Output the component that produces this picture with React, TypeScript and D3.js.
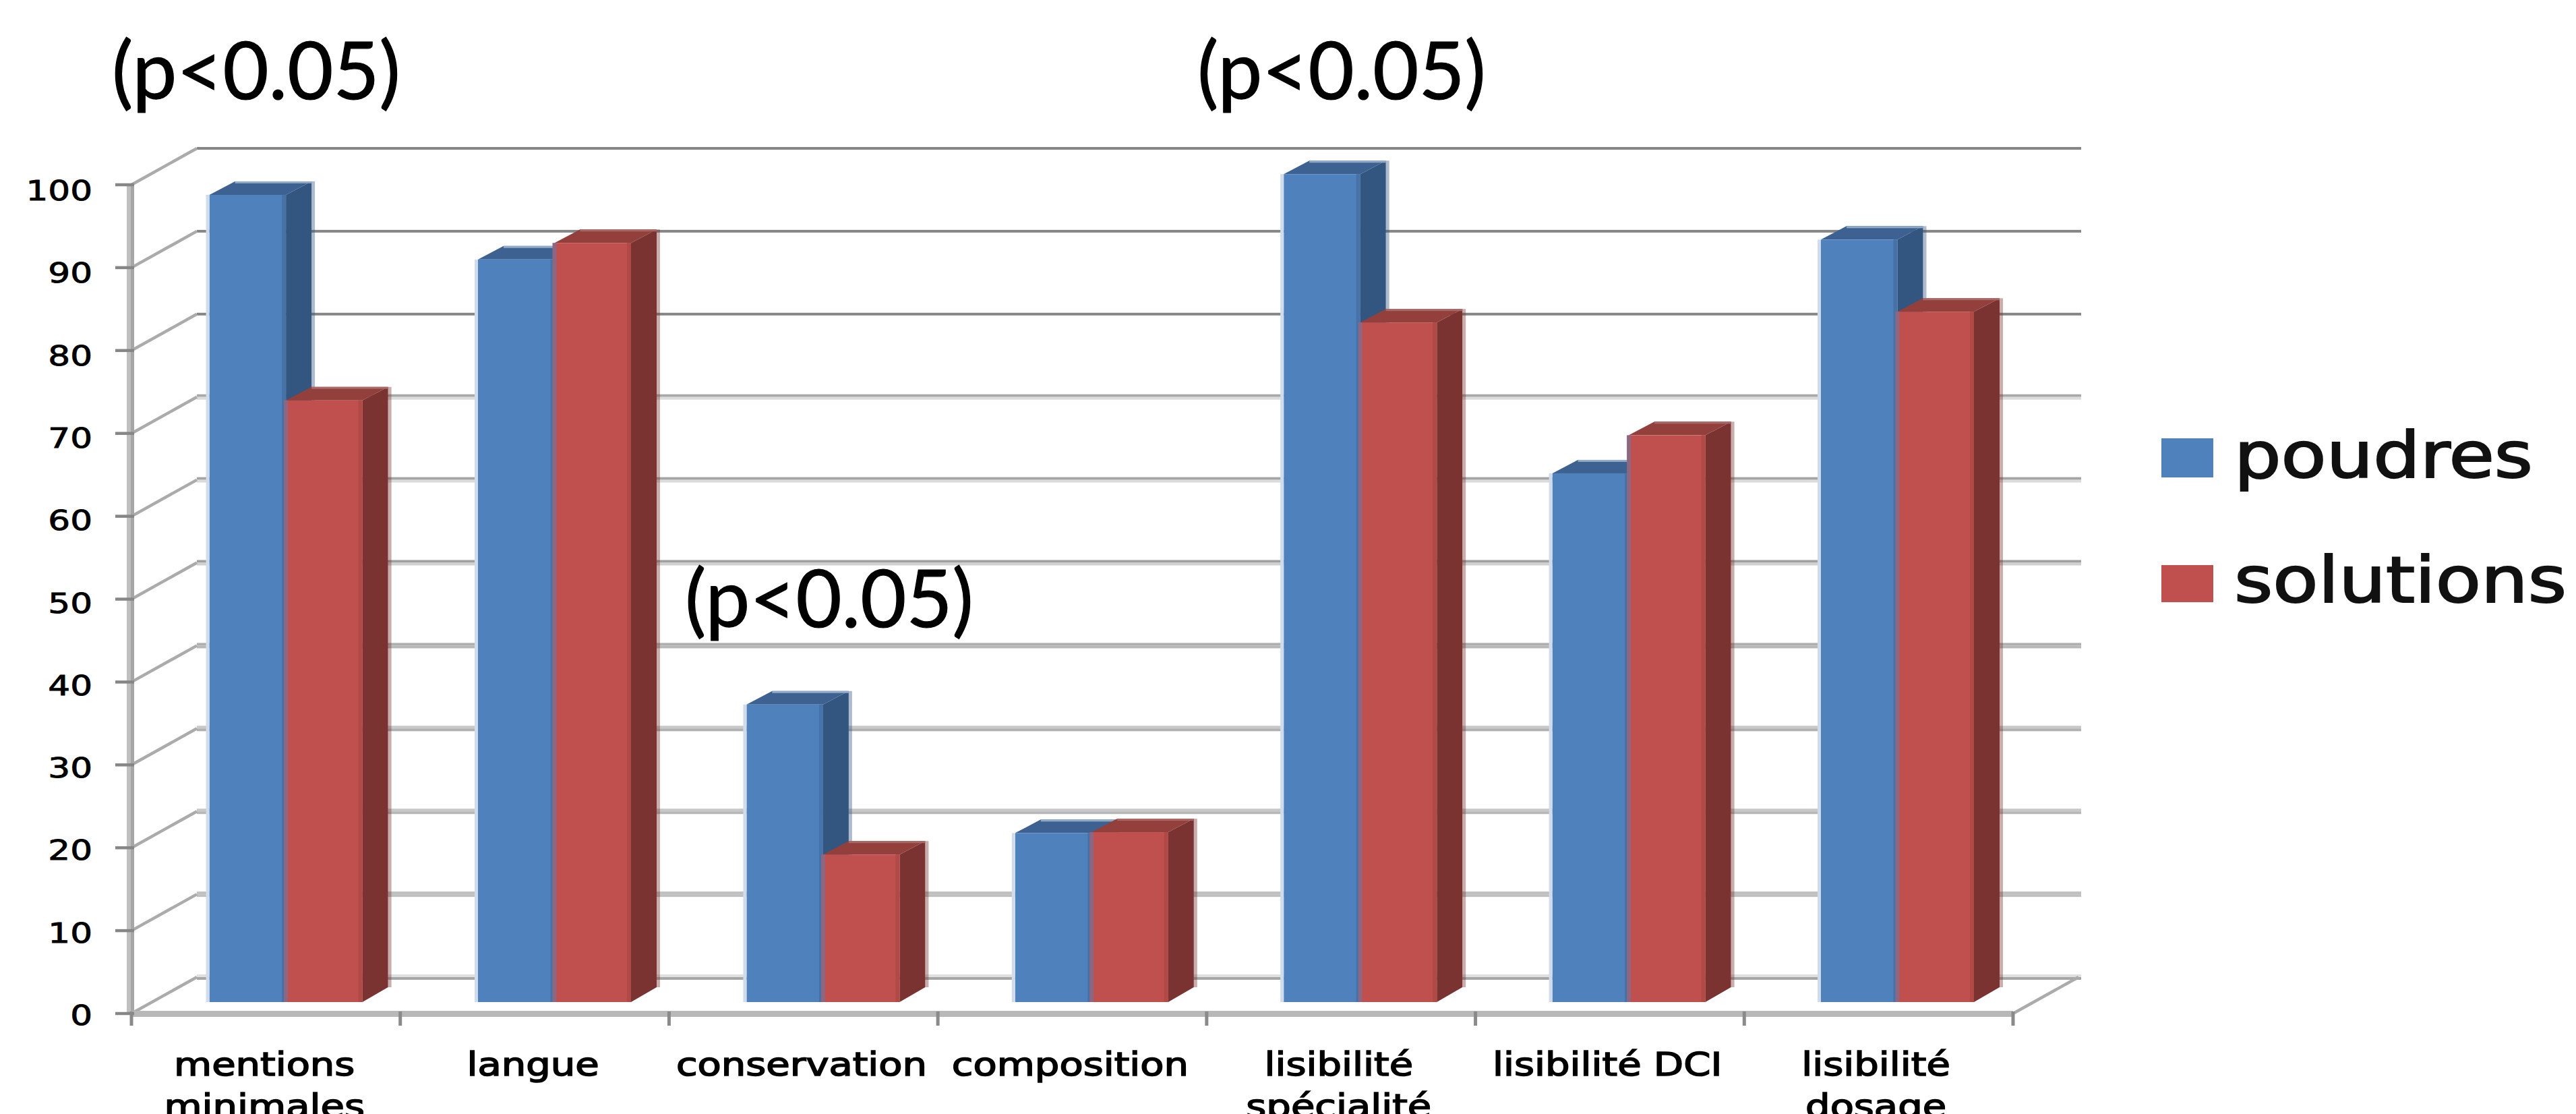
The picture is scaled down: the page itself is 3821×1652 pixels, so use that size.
import React from "react";
import * as d3 from "d3";

const categories: string[][] = [
  ["mentions", "minimales"],
  ["langue"],
  ["conservation"],
  ["composition"],
  ["lisibilité", "spécialité"],
  ["lisibilité DCI"],
  ["lisibilité", "dosage"],
];
const poudres = [97.4, 89.6, 35.9, 20.4, 99.9, 63.8, 92];
const solutions = [72.6, 91.6, 17.8, 20.5, 82, 68.4, 83.3];
const ticks = [0, 10, 20, 30, 40, 50, 60, 70, 80, 90, 100];
const seriesNames = ["poudres", "solutions"];
const annotations = ["(p<0.05)", "(p<0.05)", "(p<0.05)"];

const W = 3821;
const H = 1652;
const colors = [
  { front: "#4f81bd", side: "#335680", top: "#3d6291", edge: "#92aac8", inner: "#4672a8", left: "#d0dcec" },
  { front: "#c0504d", side: "#7a3331", top: "#93403d", edge: "#a96765", inner: "#b04a47", left: "#8f6680" },
];
const gridTones: Record<number, [string, string]> = {
  0: ["#e0e0e0", "#a6a6a6"],
  10: ["#c0c0c0", "#c0c0c0"],
  20: ["#c8c8c8", "#b8b8b8"],
  30: ["#c8c8c8", "#b0b0b0"],
  40: ["#b0b0b0", "#b8b8b8"],
  50: ["#a0a0a0", "#d0d0d0"],
  60: ["#a4a4a4", "#dcdcdc"],
  70: ["#a8a8a8", "#dcdcdc"],
  80: ["#868686", "#868686"],
  90: ["#868686", "#868686"],
  100: ["#868686", "#868686"],
};

const depthX = 97;
const depthY = 54;
const axisX = 195;
const axisEnd = 2986;

const yAxis = d3.scaleLinear().domain([0, 100]).range([1503, 274]);
const yLabel = d3.scaleLinear().domain([0, 100]).range([1520, 297]);
const yBar = d3.scaleLinear().domain([0, 100]).range([1486, 257]);
const xTick = d3.scalePoint<number>().domain(d3.range(8)).range([axisX, axisEnd]);
const xGroup = d3.scaleBand<number>().domain(d3.range(7)).range([310.6, 310.6 + 398.4 * 7]);
const xSeries = d3.scaleBand<number>().domain([0, 1]).range([0, 227]);

const barDX = 38;
const barDY = 20;

function Bar({ i, s, v }: { i: number; s: number; v: number }) {
  const x0 = (xGroup(i) as number) + (xSeries(s) as number);
  const w = xSeries.bandwidth();
  const top = yBar(v);
  const bottom = yBar(0);
  const c = colors[s];
  const poly = (p: number[][]) => p.map((q) => q.join(",")).join(" ");
  return (
    <g>
      <polygon
        points={poly([[x0 + w, top], [x0 + w + barDX, top - barDY], [x0 + w + barDX, bottom - barDY - 2], [x0 + w, bottom]])}
        fill={c.side}
      />
      <rect x={x0 + w + barDX} y={top - barDY} width={5} height={bottom - top - 2} fill={c.side} opacity={0.4} />
      <polygon
        points={poly([[x0, top], [x0 + barDX, top - barDY], [x0 + w + barDX, top - barDY], [x0 + w, top]])}
        fill={c.top}
      />
      <rect x={x0 + barDX} y={top - barDY} width={w} height={3} fill={c.edge} />
      <rect x={x0} y={top} width={w} height={bottom - top} fill={c.front} />
      <rect x={x0 + w - 6} y={top} width={6} height={bottom - top} fill={c.inner} />
      <rect x={x0 - (s === 0 ? 5 : 3)} y={top} width={s === 0 ? 5 : 6} height={bottom - top} fill={c.left} />
    </g>
  );
}

export default function App() {
  const band = 398.4;
  return (
    <svg
      width={W}
      height={H}
      viewBox={`0 0 ${W} ${H}`}
      style={{ position: "fixed", left: 0, top: 0, background: "#fff" }}
    >
      {/* back wall and side wall */}
      {ticks.map((t) => {
        const thin = t >= 80;
        const yb = yAxis(t) - depthY;
        const [c1, c2] = gridTones[t];
        const x1 = axisX + depthX;
        const len = axisEnd + depthX + 4 - x1;
        return (
          <g key={t}>
            {thin ? (
              <rect x={x1} y={yb - 2} width={len} height={4} fill={c1} />
            ) : (
              <g>
                <rect x={x1} y={yb - 4} width={len} height={4} fill={c1} />
                <rect x={x1} y={yb} width={len} height={4} fill={c2} />
              </g>
            )}
            <line x1={axisX} x2={axisX + depthX} y1={yAxis(t)} y2={yb} stroke="#ababab" strokeWidth={4.5} />
          </g>
        );
      })}
      <line x1={axisEnd} x2={axisEnd + depthX} y1={yAxis(0)} y2={yAxis(0) - depthY} stroke="#ababab" strokeWidth={4.5} />
      {/* axes */}
      <rect x={188} y={yAxis(100)} width={6} height={yAxis(0) - yAxis(100)} fill="#c0c0c0" />
      <rect x={194} y={yAxis(100)} width={5} height={yAxis(0) - yAxis(100)} fill="#a6a6a6" />
      <rect x={axisX} y={1499} width={axisEnd - axisX} height={9} fill="#b8b8b8" />
      {ticks.map((t) => (
        <g key={t}>
          <line x1={171} x2={axisX + 4} y1={yAxis(t)} y2={yAxis(t)} stroke="#868686" strokeWidth={4.5} />
          <text
            transform={`translate(137,${yLabel(t)}) scale(1.29,1)`}
            textAnchor="end"
            fontFamily="'DejaVu Sans'"
            fontSize={40}
            fill="#000"
            stroke="#000"
            strokeWidth={0.9}
          >
            {t}
          </text>
        </g>
      ))}
      {d3.range(8).map((k) => (
        <line
          key={k}
          x1={xTick(k) as number}
          x2={xTick(k) as number}
          y1={1500}
          y2={1521}
          stroke="#8a8a8a"
          strokeWidth={5}
        />
      ))}
      {/* bars */}
      {poudres.map((v, i) => (
        <g key={i}>
          <Bar i={i} s={0} v={v} />
          <Bar i={i} s={1} v={solutions[i]} />
        </g>
      ))}
      {/* category labels */}
      {categories.map((lines, i) => {
        const cx = axisX + band * (i + 0.5) - 2;
        return lines.map((ln, j) => (
          <text
            key={ln}
            transform={`translate(${cx},${1595 + j * 62}) scale(1.2,1)`}
            textAnchor="middle"
            fontFamily="'DejaVu Sans'"
            fontSize={48}
            fill="#000"
            stroke="#000"
            strokeWidth={1.6}
          >
            {ln}
          </text>
        ));
      })}
      {/* legend */}
      {seriesNames.map((n, s) => (
        <g key={n}>
          <rect x={3206} y={[650, 838][s]} width={77} height={[58, 55][s]} fill={colors[s].front} />
          <text
            x={3314}
            y={[708, 893][s]}
            fontFamily="'DejaVu Sans'"
            fontSize={95}
            fill="#111"
            stroke="#111"
            strokeWidth={2.2}
            textLength={[443, 493][s]}
            lengthAdjust="spacingAndGlyphs"
          >
            {n}
          </text>
        </g>
      ))}
      {/* annotations */}
      {annotations.map((a, k) => (
        <text
          key={k}
          x={[166, 1776, 1016][k]}
          y={[147, 147, 930][k]}
          fontFamily="Lato"
          fontSize={118}
          fill="#000"
          stroke="#000"
          strokeWidth={1.2}
          textLength={428}
          lengthAdjust="spacingAndGlyphs"
        >
          {a}
        </text>
      ))}
    </svg>
  );
}
